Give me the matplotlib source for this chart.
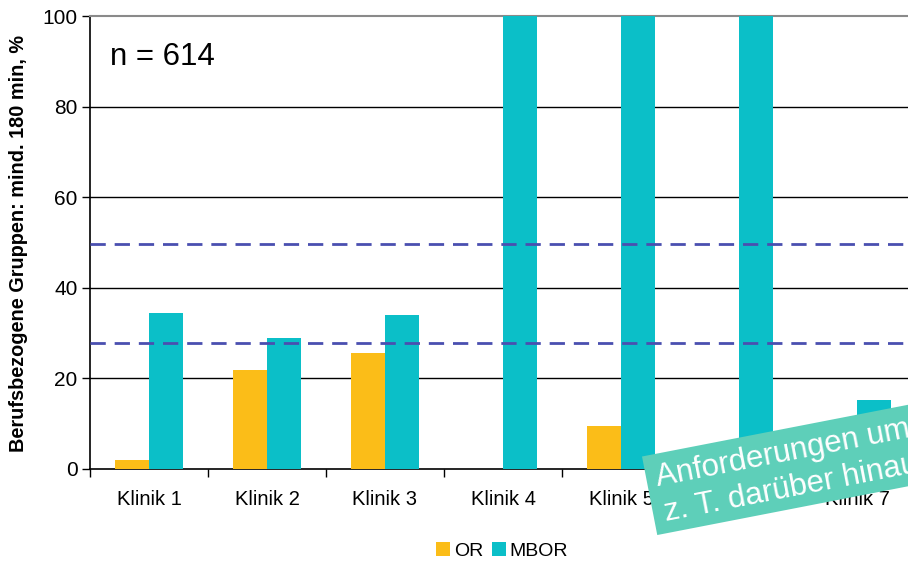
import numpy as np
import matplotlib
matplotlib.use("Agg")
import matplotlib.pyplot as plt
from matplotlib.patches import Polygon

plt.rcParams['font.family'] = ['Liberation Sans', 'DejaVu Sans']

categories = ["Klinik 1", "Klinik 2", "Klinik 3", "Klinik 4", "Klinik 5", "Klinik 6", "Klinik 7"]
or_values = [2.0, 21.9, 25.7, 0.0, 9.6, 0.0, 0.0]
mbor_values = [34.4, 28.9, 34.0, 100.0, 100.0, 100.0, 15.2]
ref_lines = [27.8, 49.6]
yticks = [0, 20, 40, 60, 80, 100]
series_names = ["OR", "MBOR"]
n_text = "n = 614"
banner_lines = ["Anforderungen umgesetzt,", "z. T. darüber hinaus"]

W, H = 908, 563
fig = plt.figure(figsize=(W / 100, H / 100), dpi=100)
left, right, top, bottom = 90, 916, 16, 469
ax = fig.add_axes([left / W, (H - bottom) / H, (right - left) / W, (bottom - top) / H])

c_or = "#FBBD18"
c_mbor = "#0BBFC8"
x = np.arange(len(categories))
bw = 0.284
b1 = ax.bar(x - bw / 2, or_values, bw, color=c_or, label=series_names[0], zorder=3)
b2 = ax.bar(x + bw / 2, mbor_values, bw, color=c_mbor, label=series_names[1], zorder=3)

for v in ref_lines:
    ln = ax.axhline(v, color="#4A4FB0", lw=2.0, zorder=4)
    ln.set_dashes((5.5, 3.2))

ax.set_xlim(-0.5, len(categories) - 0.5)
ax.set_ylim(0, 100)
ax.set_yticks(yticks)
ax.tick_params(axis='y', labelsize=15, length=6, width=1, direction='out', pad=3)
ax.set_xticks(x)
ax.set_xticklabels(categories)
ax.tick_params(axis='x', which='major', length=0, labelsize=14.5, pad=15)
ax.set_xticks(np.arange(len(categories) + 1) - 0.5, minor=True)
ax.tick_params(axis='x', which='minor', length=6, width=1, direction='out')

for v in yticks[1:-1]:
    ax.axhline(v, color="black", lw=1.0, zorder=1)
ax.spines['top'].set_color("#8a8a8a")
ax.spines['top'].set_linewidth(1.5)
ax.spines['right'].set_visible(False)
ax.spines['left'].set_linewidth(1.2)
ax.spines['bottom'].set_linewidth(1.2)

fig.text(19 / W, (H - 243) / H, "Berufsbezogene Gruppen: mind. 180 min, %", fontsize=14.3,
         fontweight='bold', rotation=90, ha='center', va='center')
fig.text(110 / W, (H - 65) / H, n_text, fontsize=22.5, ha='left', va='baseline')

fig.legend(handles=[b1, b2], labels=series_names, loc='center', bbox_to_anchor=(502 / W, (H - 551) / H),
           ncol=2, frameon=False, fontsize=14, handlelength=0.72, handleheight=0.72,
           handletextpad=0.2, columnspacing=0.45)

# banner
th = np.deg2rad(11.0)
u = np.array([np.cos(th), -np.sin(th)])   # image coords (y down)
d = np.array([np.sin(th), np.cos(th)])
p0 = np.array([642.0, 456.5])
L, Hb = 420.0, 80.0
pts = [p0, p0 + L * u, p0 + L * u + Hb * d, p0 + Hb * d]
pts_fig = [(p[0] / W, (H - p[1]) / H) for p in pts]
fig.patches.append(Polygon(pts_fig, closed=True, transform=fig.transFigure, facecolor="#5ECFB9",
                           edgecolor='none', zorder=10))
starts = [np.array([658.0, 486.0]), np.array([665.5, 521.0])]
for s, line in zip(starts, banner_lines):
    fig.text(s[0] / W, (H - s[1]) / H, line, fontsize=22.5, color='white', ha='left', va='baseline',
             rotation=11, rotation_mode='anchor', zorder=11)

fig.savefig("out.png", dpi=100)
